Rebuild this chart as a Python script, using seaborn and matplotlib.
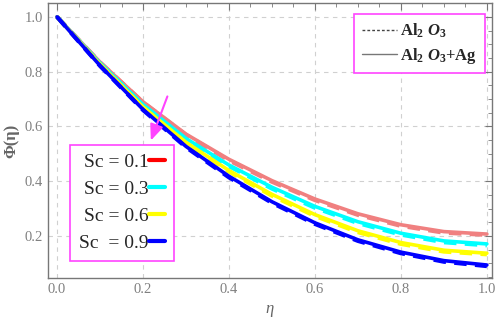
import numpy as np
import pandas as pd
import matplotlib
matplotlib.use('Agg')
import matplotlib.pyplot as plt
from matplotlib.lines import Line2D
from matplotlib.ticker import MultipleLocator
import seaborn as sns

# data
eta = [0.0, 0.1, 0.2, 0.3, 0.4, 0.5, 0.6, 0.7, 0.8, 0.9, 1.0]
sc_labels = ['Sc = 0.1', 'Sc = 0.3', 'Sc = 0.6', 'Sc  = 0.9']
# Al2O3+Ag (solid)
phi_01 = [1.0, 0.835, 0.690, 0.572, 0.480, 0.402, 0.335, 0.281, 0.241, 0.216, 0.207]
phi_03 = [1.0, 0.831, 0.680, 0.556, 0.459, 0.378, 0.308, 0.252, 0.210, 0.182, 0.171]
phi_06 = [1.0, 0.827, 0.671, 0.542, 0.439, 0.352, 0.278, 0.219, 0.176, 0.148, 0.137]
phi_09 = [1.0, 0.822, 0.662, 0.527, 0.418, 0.325, 0.248, 0.186, 0.141, 0.110, 0.094]
# Al2O3 (dashed)
phi_01_d = [1.0, 0.834, 0.688, 0.569, 0.476, 0.398, 0.331, 0.277, 0.237, 0.212, 0.204]
phi_03_d = [1.0, 0.830, 0.678, 0.553, 0.455, 0.373, 0.303, 0.247, 0.205, 0.177, 0.166]
phi_06_d = [1.0, 0.826, 0.669, 0.539, 0.435, 0.347, 0.273, 0.214, 0.171, 0.143, 0.133]
phi_09_d = [1.0, 0.821, 0.660, 0.524, 0.414, 0.321, 0.244, 0.182, 0.137, 0.106, 0.090]

line_colors = ['#f08080', '#00ffff', '#ffff00', '#0000ff']
legend_colors = ['#ff0000', '#00ffff', '#ffff00', '#0000ff']

sns.set_style('white')
plt.rcParams['font.family'] = ['Liberation Serif', 'DejaVu Serif']
plt.rcParams['mathtext.fontset'] = 'custom'
plt.rcParams['mathtext.rm'] = 'Liberation Serif'
plt.rcParams['mathtext.it'] = 'Liberation Serif:italic:bold'
plt.rcParams['mathtext.bf'] = 'Liberation Serif:bold'

fig = plt.figure(figsize=(4.98, 3.22), dpi=100)
ax = fig.add_axes([0.0964, 0.137, 0.8916, 0.854])

solid = [phi_01, phi_03, phi_06, phi_09]
dashed = [phi_01_d, phi_03_d, phi_06_d, phi_09_d]
for s, d, c in zip(solid, dashed, line_colors):
    sns.lineplot(x=eta, y=d, ax=ax, color=c, lw=3, linestyle=(0, (3, 2)))
    sns.lineplot(x=eta, y=s, ax=ax, color=c, lw=2.6)

ax.set_xlim(-0.021, 1.012)
ax.set_ylim(0.047, 1.051)
ax.xaxis.set_major_locator(MultipleLocator(0.2))
ax.yaxis.set_major_locator(MultipleLocator(0.2))
ax.xaxis.set_minor_locator(MultipleLocator(0.05))
ax.yaxis.set_minor_locator(MultipleLocator(0.05))
ax.tick_params(which='both', direction='in', top=True, right=True, colors='#777777',
               labelsize=10.5, labelcolor='#808080')
ax.tick_params(which='major', length=5)
ax.tick_params(which='minor', length=3)
ax.grid(True, which='major', linestyle=(0, (4, 4)), color='#d0d0d0', lw=0.8)
for sp in ax.spines.values():
    sp.set_color('#777777')
    sp.set_linewidth(1)

ax.set_xlabel('η', fontsize=12, color='#666666', fontstyle='italic')
ax.set_ylabel('Φ(η)', fontsize=12, color='#666666', fontweight='bold')

ax.annotate('', xy=(0.216, 0.539), xytext=(0.259, 0.719),
            arrowprops=dict(arrowstyle='-|>,head_length=0.6,head_width=0.25',
                            color='#ff44ff', lw=1.5, mutation_scale=16))

sc_handles = [Line2D([0], [0], color=c, lw=3) for c in legend_colors]
leg1 = ax.legend(sc_handles, sc_labels, loc='upper left', bbox_to_anchor=(0.05, 0.484),
                 borderaxespad=0, markerfirst=False, handlelength=0.8, handletextpad=0.05,
                 fontsize=14, fancybox=False, edgecolor='#ff44ff', framealpha=1,
                 borderpad=0.45, labelspacing=0.48)
leg1.get_frame().set_linewidth(1.2)
ax.add_artist(leg1)

mat_handles = [Line2D([0], [0], color='#444444', lw=1, linestyle=(0, (2, 1.5))),
               Line2D([0], [0], color='#777777', lw=1)]
mat_labels = [r'$\mathbf{Al_2}\ \mathit{O}_\mathbf{3}$',
              r'$\mathbf{Al_2}\ \mathit{O}_\mathbf{3}\mathbf{+Ag}$']
leg2 = ax.legend(mat_handles, mat_labels, loc='upper right', bbox_to_anchor=(0.984, 0.96),
                 borderaxespad=0, handlelength=2.1, handletextpad=0.2, fontsize=12,
                 fancybox=False, edgecolor='#ff44ff', framealpha=1, borderpad=0.45,
                 labelspacing=0.35)
leg2.get_frame().set_linewidth(1.2)

fig.savefig('out.png', dpi=100)
